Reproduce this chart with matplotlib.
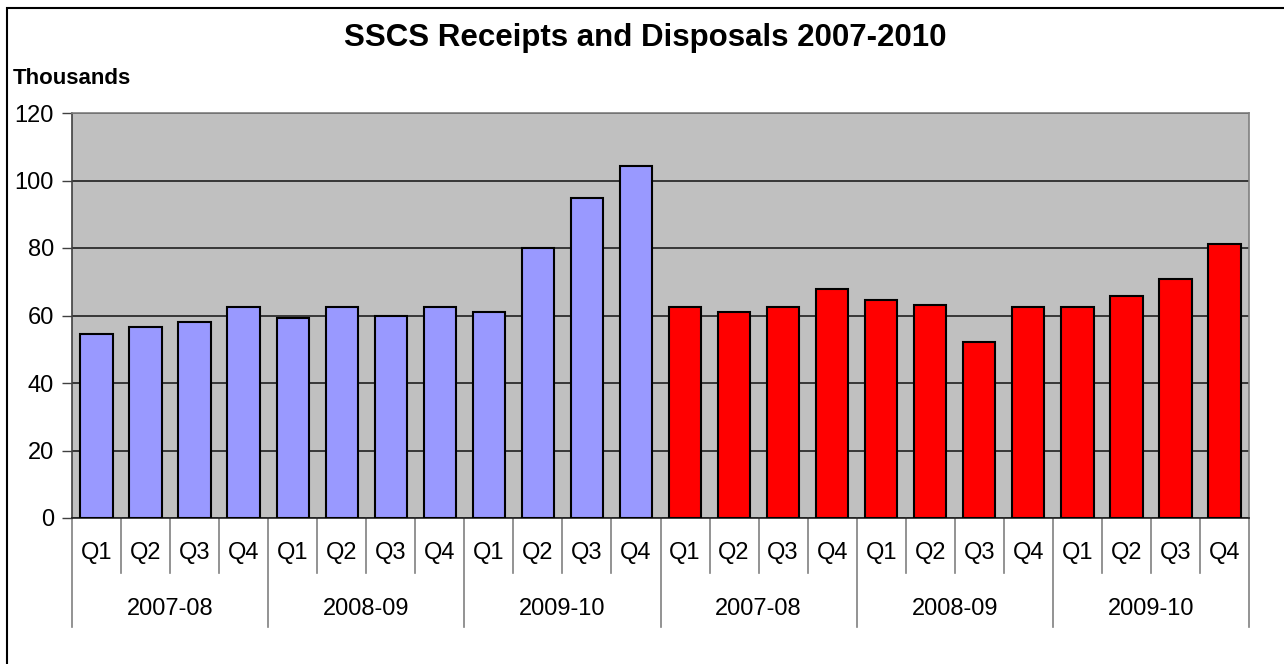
import matplotlib
matplotlib.use("Agg")
import matplotlib.pyplot as plt
from matplotlib.patches import Rectangle
from matplotlib.transforms import blended_transform_factory

quarters = ["Q1", "Q2", "Q3", "Q4"]
years = ["2007-08", "2008-09", "2009-10"]
receipts = [54.6, 56.5, 58.2, 62.4, 59.4, 62.4, 60.0, 62.4, 61.1, 80.1, 94.9, 104.4]
disposals = [62.4, 61.1, 62.4, 67.8, 64.7, 63.0, 52.2, 62.4, 62.4, 65.9, 70.7, 81.3]
title = "SSCS Receipts and Disposals 2007-2010"
y_ticks = [0, 20, 40, 60, 80, 100, 120]

W, H = 1284, 664
fig = plt.figure(figsize=(W / 100, H / 100), dpi=100)
fig.patch.set_facecolor("white")
# outer chart border (only left and top edges fall inside the image)
fig.add_artist(Rectangle((7 / W, -10 / H), (W + 20) / W, (H + 10 - 8) / H,
                         transform=fig.transFigure, fill=False,
                         edgecolor="black", linewidth=1.5, clip_on=False))

left, right, top, bottom = 72, 1249, 113, 518
ax = fig.add_axes([left / W, 1 - bottom / H, (right - left) / W, (bottom - top) / H])
ax.set_facecolor("#C0C0C0")

values = receipts + disposals
colors = ["#9999FF"] * len(receipts) + ["#FF0000"] * len(disposals)
xs = [i + 0.5 for i in range(len(values))]
ax.bar(xs, values, width=0.66, color=colors, edgecolor="black", linewidth=1.5, zorder=3)

FONT = "Liberation Sans"
ax.set_xlim(0, len(values))
ax.set_ylim(0, 120)
ax.set_yticks(y_ticks)
ax.set_yticklabels([str(v) for v in y_ticks], fontsize=17, family=FONT)
ax.tick_params(axis="y", length=7, width=1, color="#404040", pad=6)
ax.set_xticks([])
ax.yaxis.grid(True, color="#202020", linewidth=1.2, zorder=1)
ax.set_axisbelow(True)
for s in ["top", "right"]:
    ax.spines[s].set_color("#808080")
    ax.spines[s].set_linewidth(1.2)
ax.spines["left"].set_color("#404040")
ax.spines["bottom"].set_color("#202020")
ax.spines["left"].set_linewidth(1.2)
ax.spines["bottom"].set_linewidth(1.2)

tr = blended_transform_factory(ax.transData, ax.transAxes)
axh = bottom - top
q_len = -55 / axh
y_len = -109 / axh
n = len(values)
for i in range(n + 1):
    is_year = (i % 4 == 0)
    ax.plot([i, i], [0, y_len if is_year else q_len], transform=tr,
            color="#808080", linewidth=1.2, clip_on=False)
for i in range(n):
    ax.text(i + 0.5, -35 / axh, quarters[i % 4], transform=tr, ha="center", va="center",
            fontsize=17, family=FONT)
groups = years + years
for g, name in enumerate(groups):
    ax.text(g * 4 + 2, -91 / axh, name, transform=tr, ha="center", va="center",
            fontsize=17, family=FONT)

fig.text(645 / W, 1 - 38 / H, title, ha="center", va="center", fontsize=22.5,
         fontweight="bold", family=FONT)
fig.text(12.5 / W, 1 - 78 / H, "Thousands", ha="left", va="center", fontsize=16,
         fontweight="bold", family=FONT)

fig.savefig("out.png", dpi=100)
